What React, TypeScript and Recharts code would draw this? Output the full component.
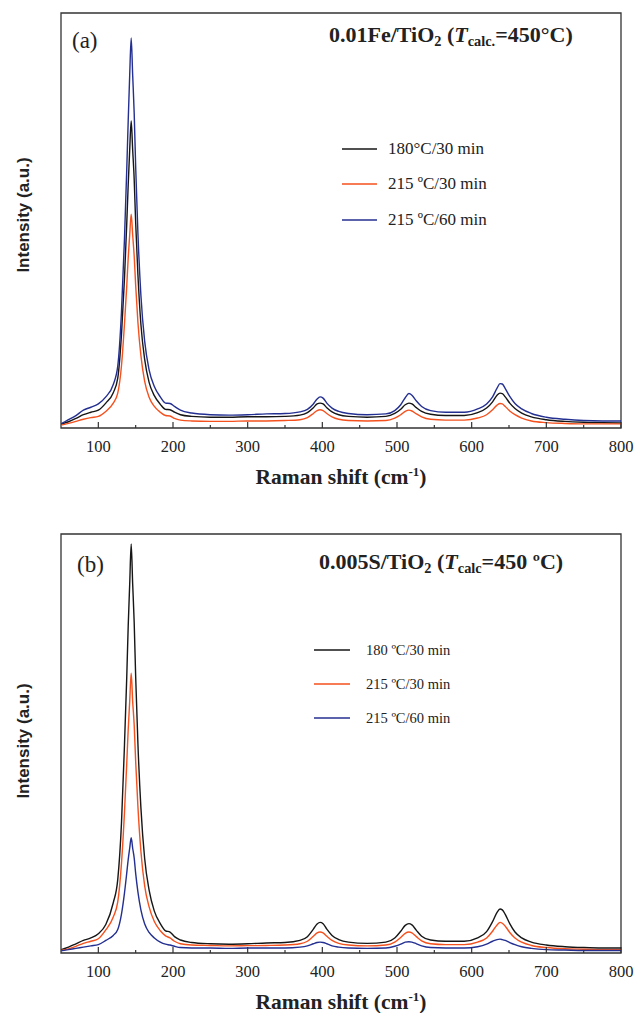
import { LineChart, Line, XAxis, YAxis, ReferenceArea, Legend } from 'recharts';

// Raman shift sample positions (cm-1)
const SHIFT = [50, 60, 70, 80, 90, 100, 110, 120, 126, 131, 135, 138, 140, 142, 144, 146, 148, 150, 153, 157, 162, 168, 175, 183, 190, 196, 202, 210, 225, 250, 275, 300, 325, 350, 370, 380, 388, 393, 397, 401, 406, 413, 422, 435, 460, 485, 497, 505, 511, 516, 520, 526, 533, 545, 565, 590, 608, 620, 628, 634, 638, 641, 645, 651, 658, 667, 680, 700, 725, 750, 775, 800];

// (a) 0.01Fe/TiO2
const A_180_30 = [0.9, 1.5, 2.3, 3.2, 3.8, 4.3, 6.0, 8.5, 12, 22.5, 36, 49, 58.6, 67, 74, 67, 60, 49.5, 37, 25, 16.6, 11, 7.8, 5.7, 4.5, 4.4, 3.8, 3.2, 2.8, 2.6, 2.6, 2.7, 2.7, 2.8, 3.1, 3.7, 4.9, 5.8, 6.0, 5.8, 4.9, 3.9, 3.2, 2.8, 2.6, 2.8, 3.5, 4.5, 5.6, 6.0, 5.8, 4.9, 4.0, 3.3, 3.0, 3.0, 3.7, 4.8, 6.3, 7.9, 8.4, 8.3, 7.5, 6.0, 4.7, 3.6, 2.7, 2.0, 1.6, 1.4, 1.3, 1.2];
const A_215_30 = [0.7, 1.1, 1.6, 2.1, 2.5, 2.8, 4.0, 6.0, 8.4, 15, 25, 34, 41, 46.5, 51.5, 46.5, 41.5, 34.4, 25.5, 17.5, 11.3, 7.4, 5.2, 3.8, 3.0, 2.9, 2.3, 1.9, 1.7, 1.6, 1.6, 1.7, 1.7, 1.8, 2.0, 2.5, 3.5, 4.2, 4.4, 4.2, 3.5, 2.7, 2.1, 1.8, 1.7, 1.8, 2.4, 3.2, 4.0, 4.3, 4.1, 3.4, 2.7, 2.1, 1.9, 1.9, 2.4, 3.2, 4.4, 5.5, 5.9, 5.8, 5.2, 4.1, 3.2, 2.4, 1.7, 1.3, 1.1, 1.0, 1.0, 1.0];
const A_215_60 = [1.0, 2.0, 3.0, 4.3, 5.0, 5.8, 7.5, 10.5, 14.9, 28, 45.5, 62, 74, 85, 94, 85, 76, 63, 47, 32, 21, 14, 10, 7.5, 6.0, 5.9, 5.2, 4.3, 3.6, 3.2, 3.1, 3.2, 3.4, 3.5, 3.9, 4.5, 5.8, 7.0, 7.5, 7.2, 6.0, 4.8, 4.0, 3.5, 3.2, 3.4, 4.2, 5.6, 7.3, 8.3, 7.9, 6.5, 5.2, 4.2, 3.8, 3.8, 4.6, 5.8, 7.5, 9.6, 10.7, 10.6, 9.5, 7.6, 5.9, 4.6, 3.5, 2.6, 2.1, 1.8, 1.7, 1.7];

// (b) 0.005S/TiO2
const B_180_30 = [0.8, 1.4, 2.2, 3.0, 3.6, 4.6, 6.8, 12, 17.5, 31, 49.6, 65.5, 78, 88, 97.6, 88, 79, 66, 50, 34.7, 22.6, 15, 10, 7, 5.3, 5.0, 3.9, 3.1, 2.5, 2.2, 2.1, 2.2, 2.4, 2.5, 3.0, 3.9, 5.7, 6.9, 7.3, 7.0, 5.7, 4.2, 3.2, 2.6, 2.3, 2.6, 3.6, 5.2, 6.6, 7.0, 6.7, 5.4, 4.0, 3.1, 2.8, 2.8, 3.6, 5.1, 7.5, 9.7, 10.5, 10.3, 9.2, 7.0, 5.0, 3.6, 2.6, 1.9, 1.5, 1.3, 1.2, 1.2];
const B_215_30 = [0.6, 1.0, 1.6, 2.3, 2.8, 3.4, 5.5, 8.6, 12.2, 21.4, 33.5, 45, 53.3, 60, 66.8, 60, 54.5, 45.7, 35, 24.3, 16.1, 11, 7.5, 5.3, 4.1, 3.6, 2.8, 2.2, 1.9, 1.8, 1.7, 1.75, 1.8, 1.9, 2.2, 2.8, 4.0, 4.8, 5.0, 4.8, 4.0, 3.0, 2.3, 1.9, 1.7, 1.9, 2.6, 3.7, 4.7, 5.0, 4.8, 3.9, 2.9, 2.2, 2.0, 2.0, 2.6, 3.6, 5.2, 6.7, 7.3, 7.1, 6.4, 4.9, 3.6, 2.6, 1.8, 1.3, 1.0, 0.9, 0.8, 0.8];
const B_215_60 = [0.5, 0.8, 1.1, 1.4, 1.7, 2.0, 3.0, 4.2, 5.6, 9.3, 14.3, 19, 22.3, 25, 27.5, 25, 22.7, 19, 14.6, 10.3, 7, 4.9, 3.6, 2.6, 2.1, 1.9, 1.6, 1.3, 1.2, 1.2, 1.1, 1.2, 1.2, 1.2, 1.4, 1.7, 2.2, 2.5, 2.6, 2.5, 2.2, 1.7, 1.4, 1.2, 1.1, 1.2, 1.6, 2.1, 2.6, 2.7, 2.6, 2.2, 1.7, 1.3, 1.2, 1.2, 1.5, 2.1, 2.8, 3.2, 3.3, 3.2, 3.0, 2.5, 2.0, 1.5, 1.1, 0.8, 0.7, 0.6, 0.6, 0.6];

const TICKS = [100, 150, 200, 250, 300, 350, 400, 450, 500, 550, 600, 650, 700, 750, 800];
const LEGEND_A = ['180°C/30 min', '215 ºC/30 min', '215 ºC/60 min'];
const LEGEND_B = ['180 ºC/30 min', '215 ºC/30 min', '215 ºC/60 min'];

const BLACK = '#161616';
const ORANGE = '#f4511e';
const BLUE = '#232f91';
const COLORS = [BLACK, ORANGE, BLUE];
const FRAME = '#333';

const SERIF = '"Liberation Serif", "Times New Roman", serif';
const SANS = '"Liberation Sans", Arial, sans-serif';

function buildRows(black: number[], orange: number[], blue: number[]) {
  return SHIFT.map((x, i) => ({ x, black: black[i], orange: orange[i], blue: blue[i] }));
}

function XTick(props: any) {
  const { x, y, payload } = props;
  const major = payload.value % 100 === 0;
  return (
    <g>
      <line x1={x} y1={y} x2={x} y2={y - (major ? 6 : 3)} stroke={FRAME} strokeWidth={1.2} />
      {major && (
        <text x={x} y={y + 24} textAnchor="middle" fontFamily={SERIF} fontSize={16.5} fill="#222">
          {payload.value}
        </text>
      )}
    </g>
  );
}

function XTitle(props: any) {
  const { x, y, width } = props.viewBox;
  return (
    <text x={x + width / 2} y={y + 56} textAnchor="middle" fontFamily={SERIF} fontWeight="bold" fontSize={21.5} fill="#222">
      Raman shift (cm<tspan dy={-8} fontSize={13}>-1</tspan>
      <tspan dy={8}>)</tspan>
    </text>
  );
}

interface LegendStyle {
  labels: string[];
  rowH: number;
  lineLen: number;
  gap: number;
  fontSize: number;
}

function makeLegend({ labels, rowH, lineLen, gap, fontSize }: LegendStyle) {
  return () => (
    <div>
      {labels.map((label, i) => (
        <div key={label} style={{ display: 'flex', alignItems: 'center', height: rowH }}>
          <svg width={lineLen} height={4}>
            <line x1={0} y1={2} x2={lineLen} y2={2} stroke={COLORS[i]} strokeWidth={1.6} />
          </svg>
          <span style={{ marginLeft: gap, fontFamily: SERIF, fontSize, color: '#222', whiteSpace: 'nowrap' }}>
            {label}
          </span>
        </div>
      ))}
    </div>
  );
}

interface PanelProps {
  top: number;
  height: number;
  marginTop: number;
  marginBottom: number;
  rows: any[];
  legend: LegendStyle;
  legendLeft: number;
  legendTop: number;
}

function Panel({ top, height, marginTop, marginBottom, rows, legend, legendLeft, legendTop }: PanelProps) {
  return (
    <div style={{ position: 'absolute', left: 0, top }}>
      <LineChart width={639} height={height} data={rows} margin={{ top: marginTop, right: 18, left: 61, bottom: marginBottom }}>
        <XAxis
          dataKey="x"
          type="number"
          domain={[50, 800]}
          ticks={TICKS}
          interval={0}
          allowDataOverflow
          axisLine={false}
          tickLine={false}
          tickSize={0}
          tickMargin={0}
          height={30}
          tick={XTick}
          label={{ content: XTitle }}
        />
        <YAxis type="number" domain={[0, 100]} allowDataOverflow hide />
        <ReferenceArea x1={50} x2={800} y1={0} y2={100} fill="none" fillOpacity={0} stroke={FRAME} strokeWidth={1.3} />
        <Legend
          layout="vertical"
          align="center"
          verticalAlign="middle"
          wrapperStyle={{ left: legendLeft, top: legendTop, width: 'auto' }}
          content={makeLegend(legend)}
        />
        <Line type="monotone" dataKey="black" name="black" stroke={BLACK} strokeWidth={1.4} dot={false} isAnimationActive={false} />
        <Line type="monotone" dataKey="orange" name="orange" stroke={ORANGE} strokeWidth={1.4} dot={false} isAnimationActive={false} />
        <Line type="monotone" dataKey="blue" name="blue" stroke={BLUE} strokeWidth={1.4} dot={false} isAnimationActive={false} />
      </LineChart>
    </div>
  );
}

const subStyle = { fontSize: '0.65em', verticalAlign: '-0.3em', lineHeight: 0 };

function YTitle({ cy }: { cy: number }) {
  return (
    <div
      style={{
        position: 'absolute',
        left: 23,
        top: cy,
        transform: 'translate(-50%, -50%) rotate(-90deg)',
        fontFamily: SANS,
        fontWeight: 'bold',
        fontSize: 17,
        lineHeight: 1,
        color: '#222',
        whiteSpace: 'nowrap',
      }}
    >
      Intensity (a.u.)
    </div>
  );
}

export default function App() {
  const rowsA = buildRows(A_180_30, A_215_30, A_215_60);
  const rowsB = buildRows(B_180_30, B_215_30, B_215_60);
  return (
    <div style={{ position: 'absolute', left: 0, top: 0, width: 639, height: 1013, background: '#fff' }}>
      <Panel
        top={0}
        height={500}
        marginTop={13}
        marginBottom={42}
        rows={rowsA}
        legend={{ labels: LEGEND_A, rowH: 35.5, lineLen: 35, gap: 11, fontSize: 17 }}
        legendLeft={342}
        legendTop={131}
      />
      <Panel
        top={521}
        height={492}
        marginTop={13}
        marginBottom={30}
        rows={rowsB}
        legend={{ labels: LEGEND_B, rowH: 34, lineLen: 36, gap: 16, fontSize: 14.5 }}
        legendLeft={314}
        legendTop={112}
      />

      <YTitle cy={215} />
      <YTitle cy={741} />

      <div style={{ position: 'absolute', left: 72, top: 29, fontFamily: SERIF, fontSize: 23, lineHeight: 1, color: '#222' }}>(a)</div>
      <div style={{ position: 'absolute', left: 329, top: 24, fontFamily: SERIF, fontWeight: 'bold', fontSize: 22, lineHeight: 1, color: '#222', whiteSpace: 'nowrap' }}>
        0.01Fe/TiO<span style={subStyle}>2</span> (<i>T</i><span style={subStyle}>calc.</span>=450°C)
      </div>

      <div style={{ position: 'absolute', left: 77, top: 553, fontFamily: SERIF, fontSize: 23, lineHeight: 1, color: '#222' }}>(b)</div>
      <div style={{ position: 'absolute', left: 319, top: 551, fontFamily: SERIF, fontWeight: 'bold', fontSize: 22, lineHeight: 1, color: '#222', whiteSpace: 'nowrap' }}>
        0.005S/TiO<span style={subStyle}>2</span> (<i>T</i><span style={subStyle}>calc</span>=450 ºC)
      </div>
    </div>
  );
}
